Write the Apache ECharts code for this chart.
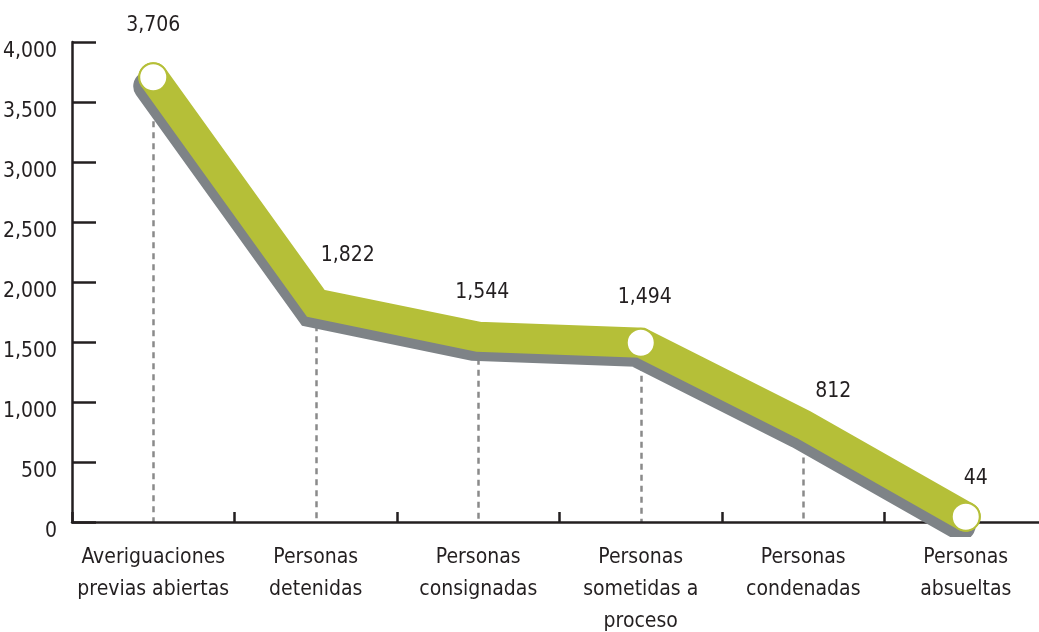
<!DOCTYPE html>
<html>
<head>
<meta charset="utf-8">
<script src="https://cdn.jsdelivr.net/npm/echarts@6/dist/echarts.min.js"></script>
<style>
html,body{margin:0;padding:0;background:#fff;}
#chart{width:1039px;height:632px;}
</style>
</head>
<body>
<div id="chart"></div>
<script>
const categories = [
  'Averiguaciones\nprevias abiertas',
  'Personas\ndetenidas',
  'Personas\nconsignadas',
  'Personas\nsometidas a\nproceso',
  'Personas\ncondenadas',
  'Personas\nabsueltas'
];
const values = [3706, 1822, 1544, 1494, 812, 44];
const circledPoints = [0, 3, 5];
const yTicks = { min: 0, max: 4000, interval: 500 };

const FONT = '"DejaVu Sans Condensed", "DejaVu Sans", sans-serif';
const FS = 21;
const GREEN = '#b5bf38';
const SHADOW = '#7e8387';
const TEXT = '#231f20';
const labelShift = [[0, -6], [32, -3], [4, 0], [4, 0], [30, 11], [10, 7]];

const fmt = v => v.toLocaleString('en-US');

const chart = echarts.init(document.getElementById('chart'));
chart.setOption({
  animation: false,
  backgroundColor: '#fff',
  grid: { left: 72, top: 42, width: 975, height: 480, containLabel: false, outerBoundsMode: 'none' },
  xAxis: {
    type: 'category',
    data: categories,
    boundaryGap: true,
    axisLine: { lineStyle: { color: TEXT, width: 2.5 } },
    axisTick: { show: true, inside: true, length: 10, lineStyle: { color: TEXT, width: 2.5 } },
    axisLabel: {
      interval: 0, color: TEXT, fontFamily: FONT, fontSize: FS, lineHeight: 32, margin: 20
    },
    splitLine: { show: false }
  },
  yAxis: {
    type: 'value',
    min: yTicks.min, max: yTicks.max, interval: yTicks.interval,
    axisLine: { show: true, lineStyle: { color: TEXT, width: 2.5 } },
    axisTick: { show: true, inside: true, length: 24, lineStyle: { color: TEXT, width: 2.5 } },
    axisLabel: {
      color: TEXT, fontFamily: FONT, fontSize: FS, margin: 15,
      verticalAlign: 'top', lineHeight: 20,
      formatter: v => fmt(v)
    },
    splitLine: { show: false }
  },
  series: [
    {
      type: 'line',
      z: 0,
      data: values,
      symbol: 'none',
      lineStyle: { width: 0, opacity: 0 },
      markLine: {
        z: 0,
        silent: true,
        symbol: 'none',
        label: { show: false },
        lineStyle: { color: '#8a8a8a', width: 2.5, type: [6, 5] },
        data: values.map((v, i) => [{ coord: [i, v] }, { coord: [i, 0] }])
      }
    },
    {
      type: 'line',
      z: 3,
      data: values.map((v, i) => {
        const shown = circledPoints.includes(i);
        return {
          value: v,
          itemStyle: shown
            ? { color: '#fff', borderColor: GREEN, borderWidth: 2 }
            : { color: 'rgba(0,0,0,0)', borderColor: 'rgba(0,0,0,0)', borderWidth: 0 },
          label: { offset: labelShift[i] }
        };
      }),
      symbol: 'circle',
      symbolSize: 28,
      showAllSymbol: true,
      lineStyle: {
        color: GREEN, width: 30, cap: 'round', join: 'miter',
        shadowColor: SHADOW, shadowBlur: 0, shadowOffsetX: -5, shadowOffsetY: 9
      },
      label: {
        show: true, position: 'top', distance: 20,
        color: TEXT, fontFamily: FONT, fontSize: FS,
        formatter: p => fmt(p.value)
      }
    }
  ]
});
</script>
</body>
</html>
